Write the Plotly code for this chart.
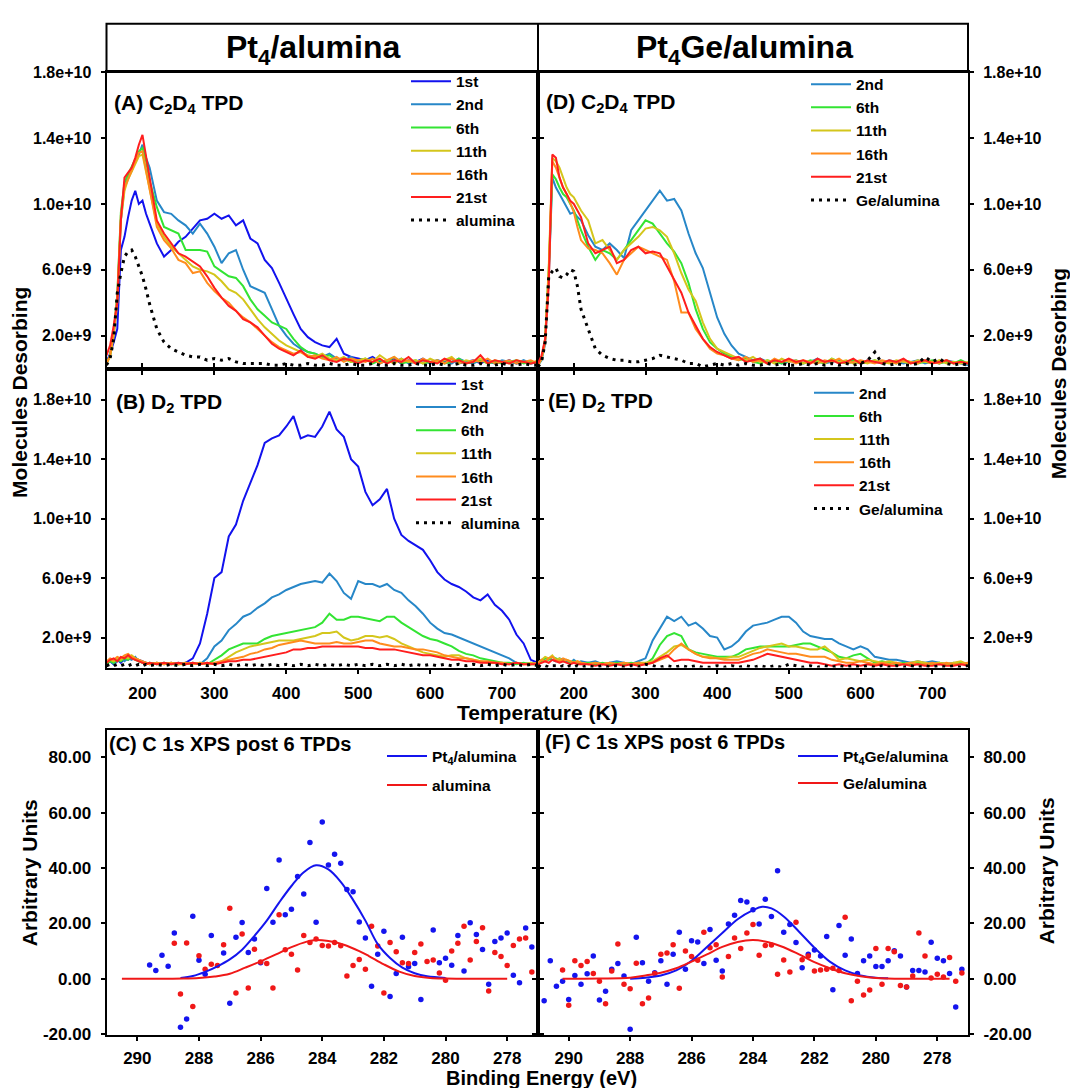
import plotly.graph_objects as go

# ---------------- TPD data (values in units of 1e9 molecules) ----------------
temperature_K = [150, 155, 160, 165, 170, 175, 180, 185, 190, 195, 200, 205, 210,
                 220, 230, 240, 250, 260, 270, 280, 290, 300,
                 310, 320, 330, 340, 350, 360, 370, 380, 390, 400,
                 410, 420, 430, 440, 450, 460, 470, 480, 490, 500,
                 510, 520, 530, 540, 550, 560, 570, 580, 590, 600,
                 610, 620, 630, 640, 650, 660, 670, 680, 690, 700,
                 710, 720, 730, 740, 750]

# Panel A: C2D4 TPD, Pt4/alumina
a_1st = [0.4, 0.9, 1.6, 2.4, 7.2, 8.0, 9.2, 10.2, 10.8, 10.0, 10.2, 9.4, 8.8,
         7.6, 6.8, 7.2, 7.7, 8.0, 8.5, 9.0, 9.1, 9.4,
         9.1, 9.3, 8.7, 9.0, 7.9, 7.6, 6.6, 6.1, 5.2, 4.2,
         3.3, 2.4, 1.9, 1.6, 1.4, 1.3, 1.8, 0.9, 0.7, 0.6,
         0.5, 0.7, 0.4, 0.5, 0.6, 0.3, 0.5, 0.4, 0.6, 0.3,
         0.5, 0.4, 0.6, 0.3, 0.4, 0.5, 0.3, 0.5, 0.4, 0.3,
         0.5, 0.3, 0.4, 0.3, 0.4]
a_2nd = [0.3, 0.8, 2.0, 4.2, 9.0, 11.0, 11.6, 12.0, 12.6, 13.0, 13.6, 12.8, 12.2,
         10.2, 9.5, 9.4, 9.0, 8.7, 8.2, 8.8, 8.2, 7.4,
         6.4, 7.0, 7.2, 6.0, 5.0, 4.8, 4.6, 3.6, 2.6, 2.0,
         1.5, 1.2, 1.0, 0.9, 0.7, 0.9, 0.6, 0.5, 0.7, 0.4,
         0.5, 0.6, 0.3, 0.5, 0.4, 0.6, 0.3, 0.4, 0.5, 0.3,
         0.4, 0.5, 0.3, 0.6, 0.4, 0.3, 0.5, 0.4, 0.3, 0.5,
         0.4, 0.3, 0.5, 0.3, 0.4]
a_6th = [0.3, 0.8, 2.2, 4.5, 9.5, 11.3, 11.8, 12.3, 12.8, 13.2, 13.4, 12.6, 11.4,
         9.8, 8.6, 8.4, 8.2, 7.2, 7.2, 7.2, 7.1, 6.2,
         5.9, 5.6, 5.5, 5.0, 4.2, 3.6, 3.2, 2.8, 2.6, 2.4,
         1.8, 1.3, 1.0, 0.9, 0.7, 0.8, 0.5, 0.6, 0.4, 0.5,
         0.6, 0.3, 0.5, 0.4, 0.7, 0.3, 0.4, 0.5, 0.3, 0.4,
         0.5, 0.3, 0.4, 0.6, 0.3, 0.4, 0.5, 0.3, 0.4, 0.3,
         0.4, 0.5, 0.3, 0.4, 0.3]
a_11th = [0.3, 0.7, 2.0, 4.0, 9.0, 10.8, 11.5, 12.0, 12.5, 12.9, 13.0, 12.0, 10.8,
          8.8, 8.0, 7.4, 7.0, 6.6, 6.2, 6.0, 5.9, 5.7,
          5.3, 4.8, 4.6, 4.2, 3.6, 3.0, 2.5, 2.1, 1.7, 1.4,
          1.2, 1.0, 0.8, 0.7, 0.9, 0.6, 0.5, 0.7, 0.4, 0.5,
          0.6, 0.4, 0.8, 0.5, 0.3, 0.6, 0.4, 0.5, 0.3, 0.6,
          0.4, 0.5, 0.7, 0.3, 0.5, 0.4, 0.6, 0.3, 0.5, 0.4,
          0.3, 0.5, 0.4, 0.3, 0.5]
a_16th = [0.3, 0.8, 2.2, 4.4, 9.3, 11.0, 11.5, 12.0, 12.6, 13.1, 13.2, 12.0, 11.0,
          8.6, 7.8, 7.3, 6.6, 6.4, 5.8, 5.9, 5.2, 4.7,
          4.3, 4.0, 3.5, 3.1, 2.8, 2.4, 2.0, 1.6, 1.3, 1.1,
          0.9, 1.0, 0.7, 0.8, 0.6, 0.5, 0.7, 0.4, 0.6, 0.5,
          0.4, 0.6, 0.3, 0.5, 0.7, 0.4, 0.5, 0.3, 0.6, 0.4,
          0.5, 0.3, 0.6, 0.4, 0.3, 0.5, 0.4, 0.6, 0.3, 0.4,
          0.5, 0.3, 0.4, 0.5, 0.3]
a_21st = [0.8, 1.4, 2.6, 4.0, 9.0, 11.6, 11.9, 12.2, 12.8, 13.6, 14.2, 13.0, 11.6,
          9.0, 8.2, 7.6, 7.0, 6.8, 6.5, 6.2, 5.6, 4.9,
          4.3, 3.8, 3.5, 3.0, 2.8, 2.5, 2.0, 1.5, 1.2, 1.0,
          0.8, 1.1, 0.7, 0.6, 0.8, 0.5, 0.4, 0.6, 0.5, 0.3,
          0.5, 0.4, 0.6, 0.3, 0.5, 0.4, 0.7, 0.3, 0.5, 0.4,
          0.3, 0.6, 0.4, 0.5, 0.3, 0.4, 0.8, 0.3, 0.5, 0.4,
          0.3, 0.5, 0.4, 0.3, 0.4]
a_alumina = [0.2, 0.6, 1.8, 4.6, 5.8, 6.8, 7.1, 7.2, 6.8, 6.2, 5.6, 4.8, 3.9,
             2.4, 1.6, 1.2, 1.0, 0.8, 0.7, 0.7, 0.5, 0.6,
             0.5, 0.6, 0.4, 0.3, 0.3, 0.3, 0.3, 0.2, 0.2, 0.3,
             0.2, 0.2, 0.3, 0.2, 0.2, 0.3, 0.2, 0.2, 0.3, 0.2,
             0.2, 0.3, 0.2, 0.2, 0.3, 0.2, 0.2, 0.3, 0.2, 0.2,
             0.3, 0.2, 0.2, 0.3, 0.2, 0.2, 0.3, 0.2, 0.2, 0.3,
             0.2, 0.2, 0.3, 0.2, 0.2]

# Panel D: C2D4 TPD, Pt4Ge/alumina
d_2nd = [0.2, 0.5, 1.5, 5.5, 11.6, 11.0, 10.6, 10.2, 9.8, 9.4, 9.5, 9.2, 9.0,
         8.1, 7.4, 7.2, 7.6, 7.2, 6.7, 8.4, 9.0, 9.6,
         10.2, 10.8, 10.2, 10.3, 9.6, 8.2, 7.0, 6.1, 4.6, 3.1,
         2.1, 1.4, 0.9, 0.7, 0.5, 0.6, 0.4, 0.5, 0.3, 0.4,
         0.5, 0.3, 0.4, 0.6, 0.3, 0.4, 0.5, 0.3, 0.4, 0.3,
         0.5, 0.4, 0.3, 0.5, 0.4, 0.3, 0.4, 0.5, 0.3, 0.4,
         0.3, 0.5, 0.4, 0.3, 0.2]
d_6th = [0.2, 0.6, 1.8, 6.0, 11.8, 11.5, 11.0, 10.6, 10.4, 10.0, 9.6, 9.0, 8.4,
         7.4, 6.6, 7.2, 7.0, 6.6, 7.2, 7.8, 8.4, 9.0,
         8.8, 8.2, 7.6, 7.1, 6.4, 5.2, 3.6, 2.4, 1.6, 1.2,
         0.9, 0.7, 0.5, 0.6, 0.4, 0.3, 0.5, 0.4, 0.3, 0.5,
         0.4, 0.3, 0.5, 0.4, 0.3, 0.6, 0.4, 0.3, 0.5, 0.3,
         0.4, 0.5, 0.3, 0.4, 0.3, 0.5, 0.4, 0.3, 0.4, 0.5,
         0.3, 0.4, 0.3, 0.5, 0.3]
d_11th = [0.2, 0.6, 1.8, 6.2, 12.8, 12.6, 12.2, 11.6, 11.0, 10.6, 10.4, 10.0, 9.6,
          9.0, 7.6, 7.8, 7.2, 6.6, 7.2, 7.6, 8.0, 8.5,
          8.6, 8.4, 8.0, 7.0, 5.8, 4.8, 4.1, 2.8, 1.8, 1.2,
          1.0, 0.8, 0.6, 0.5, 0.7, 0.4, 0.5, 0.3, 0.6, 0.4,
          0.5, 0.3, 0.4, 0.5, 0.3, 0.6, 0.4, 0.5, 0.3, 0.4,
          0.3, 0.5, 0.4, 0.3, 0.5, 0.4, 0.3, 0.5, 0.4, 0.3,
          0.5, 0.3, 0.4, 0.3, 0.4]
d_16th = [0.2, 0.6, 1.6, 5.8, 12.6, 12.2, 11.6, 11.0, 10.6, 10.0, 9.5, 8.6, 7.8,
          7.3, 7.2, 7.0, 6.4, 5.7, 6.6, 7.0, 7.4, 7.2,
          7.0, 6.8, 6.6, 5.3, 3.4, 3.4, 2.4, 1.8, 1.2, 0.9,
          0.8, 0.6, 0.5, 0.7, 0.4, 0.5, 0.3, 0.6, 0.4, 0.5,
          0.3, 0.5, 0.4, 0.3, 0.5, 0.4, 0.6, 0.3, 0.4, 0.5,
          0.4, 0.3, 0.5, 0.4, 0.3, 0.5, 0.4, 0.3, 0.5, 0.4,
          0.3, 0.5, 0.3, 0.4, 0.3]
d_21st = [0.3, 0.8, 1.8, 5.0, 13.0, 12.8, 11.6, 11.0, 10.6, 10.2, 10.0, 9.6, 9.2,
          7.6, 7.0, 7.2, 7.4, 6.4, 6.6, 7.2, 7.4, 7.0,
          7.1, 7.0, 6.2, 5.4, 4.6, 3.4, 2.6, 1.8, 1.3, 1.0,
          0.8, 0.6, 0.7, 0.4, 0.5, 0.6, 0.3, 0.5, 0.4, 0.6,
          0.4, 0.5, 0.3, 0.6, 0.4, 0.5, 0.3, 0.4, 0.6, 0.3,
          0.5, 0.4, 0.3, 0.5, 0.4, 0.6, 0.3, 0.4, 0.5, 0.3,
          0.4, 0.5, 0.3, 0.4, 0.3]
d_ge = [0.1, 0.4, 1.6, 5.6, 5.9, 6.1, 5.6, 5.5, 5.7, 6.0, 5.9, 5.0, 3.6,
        2.4, 1.2, 0.8, 0.6, 0.5, 0.5, 0.4, 0.4, 0.5,
        0.6, 0.8, 0.7, 0.6, 0.5, 0.3, 0.3, 0.1, 0.2, 0.3,
        0.2, 0.3, 0.2, 0.3, 0.2, 0.2, 0.3, 0.2, 0.3, 0.2,
        0.2, 0.3, 0.2, 0.3, 0.2, 0.3, 0.2, 0.3, 0.2, 0.3,
        0.5, 1.0, 0.3, 0.2, 0.3, 0.2, 0.2, 0.3, 0.7, 0.4,
        0.6, 0.3, 0.2, 0.3, 0.2]

# Panel B: D2 TPD, Pt4/alumina
b_1st = [0.3, 0.4, 0.2, 0.5, 0.3, 0.6, 0.5, 0.7, 0.6, 0.5, 0.4, 0.3, 0.2,
         0.3, 0.2, 0.3, 0.2, 0.3, 0.6, 1.6, 3.6, 6.0,
         6.4, 8.8, 9.6, 11.2, 12.4, 13.6, 15.1, 15.4, 15.6, 16.2,
         16.9, 15.4, 15.6, 15.5, 16.2, 17.2, 16.0, 15.5, 14.0, 13.5,
         11.8, 10.9, 11.3, 12.0, 10.0, 8.9, 8.5, 8.2, 7.9, 7.2,
         6.4, 5.9, 5.6, 5.4, 5.1, 4.7, 4.5, 4.9, 4.2, 3.8,
         3.2, 2.2, 1.6, 0.5, 0.3]
b_2nd = [0.3, 0.5, 0.2, 0.4, 0.6, 0.4, 0.6, 0.5, 0.7, 0.4, 0.3, 0.2, 0.3,
         0.2, 0.3, 0.2, 0.3, 0.2, 0.3, 0.2, 0.6, 1.4,
         1.8, 2.5, 2.9, 3.4, 3.6, 4.0, 4.3, 4.7, 4.9, 5.2,
         5.4, 5.6, 5.7, 5.8, 5.7, 6.3, 5.8, 5.0, 4.6, 5.8,
         5.6, 5.6, 5.4, 5.6, 5.2, 5.0, 4.5, 4.1, 3.6, 3.0,
         2.6, 2.3, 2.2, 2.0, 1.8, 1.6, 1.4, 1.2, 1.0, 0.8,
         0.6, 0.3, 0.2, 0.3, 0.2]
b_6th = [0.2, 0.4, 0.3, 0.5, 0.4, 0.6, 0.5, 0.7, 0.5, 0.4, 0.3, 0.2, 0.3,
         0.2, 0.3, 0.2, 0.2, 0.3, 0.2, 0.3, 0.2, 0.5,
         0.8, 1.2, 1.4, 1.6, 1.6, 1.6, 1.9, 2.1, 2.2, 2.3,
         2.4, 2.5, 2.6, 2.7, 3.0, 3.6, 3.2, 3.2, 3.4, 3.4,
         3.3, 3.2, 3.1, 3.4, 3.4, 3.0, 2.7, 2.4, 2.1, 1.9,
         1.8, 1.6, 1.4, 1.1, 0.9, 0.8, 0.6, 0.5, 0.4, 0.3,
         0.3, 0.2, 0.3, 0.2, 0.2]
b_11th = [0.3, 0.5, 0.4, 0.6, 0.5, 0.7, 0.6, 0.8, 0.6, 0.5, 0.3, 0.3, 0.2,
          0.3, 0.2, 0.3, 0.2, 0.2, 0.3, 0.2, 0.3, 0.2,
          0.4, 0.7, 1.0, 1.2, 1.4, 1.5, 1.6, 1.7, 1.8, 1.8,
          1.8, 1.9, 2.0, 2.1, 2.3, 2.3, 2.4, 2.0, 1.8, 1.9,
          2.1, 2.1, 2.0, 2.1, 1.9, 1.6, 1.4, 1.2, 1.0, 0.9,
          0.8, 0.7, 0.8, 0.8, 0.6, 0.5, 0.4, 0.3, 0.3, 0.3,
          0.2, 0.3, 0.2, 0.3, 0.2]
b_16th = [0.4, 0.6, 0.5, 0.7, 0.6, 0.8, 0.9, 0.7, 0.6, 0.5, 0.4, 0.3, 0.2,
          0.3, 0.2, 0.3, 0.2, 0.3, 0.2, 0.3, 0.2, 0.3,
          0.4, 0.5, 0.6, 0.7, 0.9, 1.0, 1.2, 1.3, 1.5, 1.6,
          1.7, 1.8, 1.7, 1.6, 1.6, 1.6, 1.7, 1.6, 1.6, 1.7,
          1.8, 1.8, 1.6, 1.5, 1.4, 1.4, 1.3, 1.2, 1.2, 1.1,
          1.0, 0.8, 0.7, 0.6, 0.6, 0.5, 0.4, 0.4, 0.3, 0.3,
          0.2, 0.3, 0.2, 0.2, 0.3]
b_21st = [0.3, 0.5, 0.6, 0.4, 0.7, 0.6, 0.8, 0.6, 0.5, 0.4, 0.3, 0.2, 0.3,
          0.2, 0.3, 0.2, 0.3, 0.2, 0.3, 0.2, 0.3, 0.2,
          0.3, 0.4, 0.4, 0.5, 0.5, 0.6, 0.7, 0.8, 0.9, 1.0,
          1.2, 1.2, 1.3, 1.3, 1.4, 1.4, 1.4, 1.4, 1.4, 1.4,
          1.3, 1.3, 1.2, 1.2, 1.2, 1.1, 1.0, 0.9, 0.8, 0.8,
          0.7, 0.6, 0.5, 0.5, 0.4, 0.4, 0.3, 0.3, 0.3, 0.2,
          0.2, 0.3, 0.2, 0.2, 0.2]
b_alumina = [0.1, 0.2, 0.1, 0.2, 0.1, 0.2, 0.1, 0.2, 0.1, 0.2, 0.1, 0.2, 0.1,
             0.2, 0.1, 0.2, 0.1, 0.2, 0.1, 0.2, 0.1, 0.2,
             0.1, 0.2, 0.1, 0.2, 0.1, 0.2, 0.1, 0.2, 0.1, 0.2,
             0.1, 0.2, 0.1, 0.2, 0.1, 0.2, 0.1, 0.2, 0.1, 0.2,
             0.1, 0.2, 0.1, 0.2, 0.1, 0.2, 0.1, 0.2, 0.1, 0.2,
             0.1, 0.2, 0.1, 0.2, 0.1, 0.2, 0.1, 0.2, 0.1, 0.2,
             0.1, 0.2, 0.1, 0.2, 0.1]

# Panel E: D2 TPD, Pt4Ge/alumina
e_2nd = [0.3, 0.5, 0.4, 0.6, 0.5, 0.4, 0.6, 0.5, 0.4, 0.3, 0.5, 0.3, 0.4,
         0.3, 0.4, 0.2, 0.3, 0.4, 0.3, 0.2, 0.4, 0.6,
         1.8, 2.6, 3.4, 3.1, 3.4, 2.8, 3.0, 2.6, 2.1, 2.0,
         1.2, 1.4, 1.8, 2.4, 2.8, 2.9, 3.0, 3.2, 3.4, 3.4,
         3.0, 2.4, 2.1, 2.0, 1.9, 1.9, 1.6, 1.4, 1.2, 1.4,
         1.2, 0.7, 0.6, 0.5, 0.5, 0.4, 0.3, 0.4, 0.3, 0.4,
         0.3, 0.2, 0.3, 0.2, 0.3]
e_6th = [0.2, 0.4, 0.6, 0.5, 0.7, 0.6, 0.5, 0.4, 0.5, 0.3, 0.4, 0.3, 0.2,
         0.3, 0.2, 0.3, 0.2, 0.3, 0.2, 0.3, 0.2, 0.2,
         0.6, 1.5, 2.1, 2.3, 2.1, 1.2, 1.0, 0.9, 0.8, 0.7,
         0.7, 0.7, 0.9, 1.2, 1.3, 1.4, 1.4, 1.4, 1.4, 1.4,
         1.5, 1.6, 1.6, 1.4, 1.2, 1.0, 0.7, 0.6, 0.8, 0.9,
         0.6, 0.3, 0.4, 0.3, 0.2, 0.3, 0.2, 0.3, 0.2, 0.2,
         0.3, 0.2, 0.2, 0.3, 0.2]
e_11th = [0.3, 0.5, 0.7, 0.6, 0.8, 0.5, 0.6, 0.4, 0.5, 0.4, 0.3, 0.4, 0.3,
          0.2, 0.3, 0.2, 0.3, 0.2, 0.3, 0.2, 0.3, 0.3,
          0.4, 0.7, 1.0, 1.4, 1.5, 1.2, 0.9, 0.7, 0.7, 0.6,
          0.6, 0.7, 0.7, 0.9, 1.1, 1.3, 1.4, 1.5, 1.6, 1.4,
          1.4, 1.3, 1.2, 1.2, 1.4, 1.0, 0.5, 0.6, 0.5, 0.4,
          0.5, 0.4, 0.3, 0.4, 0.3, 0.2, 0.3, 0.4, 0.3, 0.2,
          0.3, 0.2, 0.3, 0.4, 0.2]
e_16th = [0.3, 0.5, 0.4, 0.6, 0.7, 0.5, 0.4, 0.6, 0.5, 0.4, 0.3, 0.4, 0.3,
          0.2, 0.3, 0.2, 0.3, 0.2, 0.3, 0.2, 0.3, 0.2,
          0.3, 0.5, 0.7, 1.2, 1.6, 1.2, 0.9, 0.7, 0.6, 0.6,
          0.5, 0.5, 0.5, 0.7, 0.9, 1.0, 1.2, 1.1, 1.0, 0.9,
          0.9, 0.8, 0.7, 0.7, 0.7, 0.5, 0.4, 0.3, 0.3, 0.4,
          0.3, 0.2, 0.3, 0.2, 0.3, 0.2, 0.3, 0.2, 0.2, 0.3,
          0.2, 0.3, 0.2, 0.2, 0.3]
e_21st = [0.2, 0.3, 0.4, 0.3, 0.5, 0.4, 0.3, 0.4, 0.3, 0.2, 0.3, 0.2, 0.2,
          0.2, 0.1, 0.2, 0.1, 0.2, 0.1, 0.2, 0.1, 0.2,
          0.3, 0.6, 0.8, 0.4, 0.5, 0.5, 0.4, 0.3, 0.3, 0.3,
          0.3, 0.3, 0.3, 0.4, 0.5, 0.7, 0.9, 0.8, 0.7, 0.6,
          0.5, 0.4, 0.3, 0.3, 0.2, 0.1, 0.2, 0.1, 0.2, 0.1,
          0.2, 0.1, 0.2, 0.1, 0.1, 0.2, 0.1, 0.2, 0.1, 0.1,
          0.2, 0.1, 0.1, 0.2, 0.1]
e_ge = [0.1, 0.0, 0.1, 0.0, 0.1, 0.1, 0.0, 0.1, 0.0, 0.1, 0.0, 0.1, 0.0,
        0.1, 0.0, 0.1, 0.0, 0.1, 0.0, 0.1, 0.0, 0.2,
        0.1, 0.0, 0.1, 0.0, 0.1, 0.0, 0.1, 0.0, 0.0, 0.1,
        0.0, 0.1, 0.0, 0.1, 0.0, 0.1, 0.0, 0.1, 0.0, 0.2,
        0.1, 0.0, 0.1, 0.0, 0.1, 0.0, 0.1, 0.0, 0.1, 0.0,
        0.1, 0.0, 0.1, 0.0, 0.1, 0.0, 0.1, 0.0, 0.1, 0.0,
        0.1, 0.0, 0.1, 0.0, 0.1]

tpd_ticks = [2, 6, 10, 14, 18]
tpd_ticktext = ["2.0e+9", "6.0e+9", "1.0e+10", "1.4e+10", "1.8e+10"]
temp_ticks = [200, 300, 400, 500, 600, 700]

# ---------------- XPS data ----------------
c_pt_be = [289.6, 289.4, 289.2, 289.0, 288.8, 288.6, 288.4, 288.2, 288.0, 287.8, 287.6, 287.2,
           287.0, 286.8, 286.6, 286.4, 286.2, 286.0, 285.8, 285.6, 285.4, 285.2, 285.0, 284.8,
           284.6, 284.4, 284.2, 284.0, 283.8, 283.6, 283.4, 283.2, 283.0, 282.8, 282.6, 282.4,
           282.2, 282.0, 281.8, 281.6, 281.4, 281.2, 281.0, 280.8, 280.4, 280.2, 280.0, 279.8,
           279.6, 279.4, 279.2, 279.0, 278.8, 278.6, 278.4, 278.2, 278.0, 277.8, 277.6, 277.4, 277.2]
c_pt_val = [5.0, 3.0, 8.5, 4.5, 16.5, -17.5, -14.5, 22.6, 6.7, 1.6, 15.6, 9.3,
            -8.8, 15.0, 20.3, 9.5, 14.4, 5.8, 32.6, 20.4, 42.9, 23.1, 25.1, 36.9,
            30.6, 49.2, 20.4, 56.6, 41.1, 45.0, 41.7, 32.2, 31.4, 20.5, 14.7, -2.7,
            8.9, 17.2, -6.4, 1.9, 15.0, 4.3, 5.5, -7.5, 17.6, 5.8, 7.4, 4.9,
            15.6, 2.8, 20.2, 16.0, 10.6, -2.0, 13.5, 14.7, 16.5, 1.3, -1.4, 18.3, 11.5]
c_al_be = [288.8, 288.6, 288.4, 288.2, 288.0, 287.8, 287.6, 287.4, 287.2, 287.0,
           286.8, 286.6, 286.4, 286.2, 286.0, 285.8, 285.6, 285.4, 285.2, 285.0,
           284.8, 284.6, 284.4, 284.2, 284.0, 283.8, 283.6, 283.4, 283.2, 283.0,
           282.8, 282.6, 282.4, 282.2, 282.0, 281.8, 281.6, 281.4, 281.2, 281.0,
           280.8, 280.6, 280.4, 280.2, 280.0, 279.8, 279.6, 279.4, 279.2, 279.0,
           278.8, 278.6, 278.4, 278.2, 278.0, 277.8, 277.6, 277.4, 277.2]
c_al_val = [12.8, -5.5, 12.9, -10.0, 8.3, 3.4, 5.2, 4.8, 12.3, 25.5,
            -5.1, 16.2, -3.3, 10.7, 6.1, 5.5, -3.3, 23.1, 10.5, 8.9,
            3.2, 15.6, 13.1, 14.4, 12.0, 11.8, 13.1, 11.9, 1.0, 4.8,
            7.0, 3.4, 19.0, 11.8, -5.1, 13.1, 9.8, 5.8, 5.5, 9.5,
            12.6, 6.2, 6.8, 2.1, -0.5, 10.0, 12.8, 19.0, 6.8, 13.5,
            18.4, -4.4, 9.5, 8.0, 4.8, 12.0, 14.4, 14.7, 2.4]
c_pt_fit_be = [288.6, 288.2, 287.8, 287.4, 287.0, 286.6, 286.2, 285.8, 285.4, 285.0, 284.6,
               284.2, 283.8, 283.4, 283.0, 282.6, 282.2, 281.8, 281.4, 281.0, 280.6, 280.0]
c_pt_fit_val = [0.3, 1.0, 2.5, 4.5, 7.0, 10.5, 15.5, 21.0, 27.5, 33.5, 38.5,
                41.0, 39.5, 35.0, 28.5, 21.0, 12.5, 7.5, 4.0, 2.0, 0.9, 0.3]
c_al_fit_be = [290.5, 289.5, 288.5, 288.0, 287.5, 287.0, 286.5, 286.0, 285.5, 285.0, 284.5,
               284.2, 283.8, 283.3, 282.8, 282.5, 282.0, 281.5, 281.0, 280.5, 280.0, 279.0, 278.0]
c_al_fit_val = [0.0, 0.0, 0.1, 0.3, 0.8, 1.8, 4.0, 6.3, 8.8, 11.4, 13.4,
                14.0, 13.6, 12.3, 10.0, 8.3, 5.2, 2.6, 1.0, 0.3, 0.1, 0.0, 0.0]

f_pt_be = [290.8, 290.6, 290.4, 290.2, 290.0, 289.8, 289.6, 289.4, 289.2, 289.0,
           288.8, 288.6, 288.4, 288.2, 288.0, 287.8, 287.6, 287.4, 287.2, 287.0,
           286.8, 286.6, 286.4, 286.2, 286.0, 285.8, 285.6, 285.4, 285.2, 285.0,
           284.8, 284.6, 284.4, 284.2, 284.0, 283.8, 283.6, 283.4, 283.2, 283.0,
           282.8, 282.6, 282.4, 282.2, 282.0, 281.8, 281.6, 281.4, 281.2, 281.0,
           280.8, 280.6, 280.4, 280.2, 280.0, 279.8, 279.6, 279.4, 279.2, 279.0,
           278.8, 278.6, 278.4, 278.2, 278.0, 277.8, 277.6, 277.4, 277.2]
f_pt_val = [-7.9, 6.5, -2.7, -0.9, -7.5, 1.2, -2.0, 1.8, 8.2, -7.7,
            -4.5, 3.4, 5.5, 1.0, -18.2, 15.0, 5.8, -0.9, 2.2, 6.5,
            -2.0, 8.9, 16.8, 3.4, 13.7, 13.3, 5.5, 17.8, 6.7, 2.8,
            19.8, 22.9, 28.3, 27.7, 24.9, 19.8, 28.7, 22.5, 39.0, 16.8,
            19.6, 13.1, 4.0, 8.9, 10.4, 8.2, 15.3, -4.0, 19.2, 8.5,
            14.4, 1.9, 6.5, 8.2, 4.4, 4.4, 6.5, 10.1, 8.2, -3.0,
            3.0, 3.0, 2.4, 13.2, 7.4, 6.5, 1.9, -10.2, 3.4]
f_ge_be = [290.2, 290.0, 289.8, 289.6, 289.4, 289.2, 289.0, 288.8, 288.6, 288.4,
           288.2, 288.0, 287.8, 287.6, 287.4, 287.2, 287.0, 286.8, 286.6, 286.4,
           286.2, 286.0, 285.8, 285.6, 285.4, 285.2, 285.0, 284.8, 284.6, 284.4,
           284.2, 284.0, 283.8, 283.6, 283.4, 283.2, 283.0, 282.8, 282.6, 282.4,
           282.2, 282.0, 281.8, 281.6, 281.4, 281.2, 281.0, 280.8, 280.6, 280.4,
           280.2, 280.0, 279.8, 279.6, 279.4, 279.2, 279.0, 278.8, 278.6, 278.4,
           278.2, 278.0, 277.8, 277.6, 277.4, 277.2]
f_ge_val = [3.2, -9.6, 6.5, 4.8, 6.2, 1.9, -0.9, -9.0, 2.8, 12.6,
            -2.0, -3.6, 5.6, -9.0, -6.9, 1.9, 8.9, 9.3, 12.3, -3.4,
            10.0, 8.0, 6.7, 16.8, 11.2, 12.3, 0.6, 8.0, 14.7, 10.9,
            16.5, 19.6, 8.5, 12.0, 12.2, 1.6, 6.8, 2.4, 20.4, 6.9,
            8.2, 2.8, 3.2, 3.4, 3.8, 3.0, 22.2, -7.9, -0.9, -5.9,
            -4.1, 10.9, -2.0, 10.9, 9.8, -2.4, -3.0, 1.0, 16.5, 8.2,
            0.3, 1.6, 0.6, 7.7, -0.9, 2.1]
f_pt_fit_be = [288.0, 287.5, 287.0, 286.5, 286.0, 285.5, 285.0, 284.5, 284.0, 283.7,
               283.4, 283.0, 282.5, 282.0, 281.5, 281.0, 280.5, 280.0, 279.6]
f_pt_fit_val = [0.0, 0.4, 1.2, 3.0, 6.5, 11.5, 16.5, 21.5, 24.8, 26.0,
                25.4, 22.5, 17.0, 11.2, 6.2, 3.0, 1.2, 0.4, 0.2]
f_ge_fit_be = [290.2, 289.0, 288.0, 287.5, 287.0, 286.5, 286.0, 285.5, 285.0, 284.5, 284.0,
               283.5, 283.0, 282.5, 282.0, 281.5, 281.0, 280.5, 280.0, 279.0, 278.0, 277.6]
f_ge_fit_val = [0.0, 0.1, 0.4, 1.2, 2.2, 3.8, 6.2, 8.8, 11.5, 13.3, 14.0,
                13.2, 11.4, 8.8, 6.0, 3.8, 2.0, 0.9, 0.3, 0.0, 0.0, 0.0]

xps_ticks = [290, 288, 286, 284, 282, 280, 278]
xps_yticks = [-20, 0, 20, 40, 60, 80]

run_names_pt = ["1st", "2nd", "6th", "11th", "16th", "21st"]
run_names_ge = ["2nd", "6th", "11th", "16th", "21st"]

for s in [a_1st, a_2nd, a_6th, a_11th, a_16th, a_21st, a_alumina,
          d_2nd, d_6th, d_11th, d_16th, d_21st, d_ge,
          b_1st, b_2nd, b_6th, b_11th, b_16th, b_21st, b_alumina,
          e_2nd, e_6th, e_11th, e_16th, e_21st, e_ge]:
    assert len(s) == len(temperature_K), len(s)
assert len(c_pt_be) == len(c_pt_val)
assert len(c_al_be) == len(c_al_val)
assert len(f_pt_be) == len(f_pt_val)
assert len(f_ge_be) == len(f_ge_val)

# ---------------- styling ----------------
W, H = 1070, 1088
FONT = "Liberation Sans, Arial, Helvetica, sans-serif"
NARROW = "Liberation Sans Narrow, Arial Narrow, Liberation Sans, Arial, sans-serif"
COL = {"1st": "#1212EE", "2nd": "#2787C8", "6th": "#33E433", "11th": "#D4C61C",
       "16th": "#FF8C1E", "21st": "#FF1E1E"}
XPS_BLUE = "#1414EE"
XPS_RED = "#F01818"


def px(x):
    return x / W


def py(y):
    return 1 - y / H


XL = [px(106.5), px(538)]
XR = [px(538), px(968)]
Y_TOP = [py(367), py(65)]
Y_MID = [py(670), py(367)]
Y_BOT = [py(1043), py(733)]

fig = go.Figure()


def add_tpd(xa, ya, legend, series, names, dotted, dotted_name):
    for vals, n in zip(series, names):
        fig.add_trace(go.Scatter(x=temperature_K, y=vals, mode="lines", name=n,
                                 line=dict(color=COL[n], width=2),
                                 xaxis=xa, yaxis=ya, legend=legend))
    fig.add_trace(go.Scatter(x=temperature_K, y=dotted, mode="lines", name=dotted_name,
                             line=dict(color="black", width=3, dash="3px,5px"),
                             xaxis=xa, yaxis=ya, legend=legend))


add_tpd("x", "y", "legend", [a_1st, a_2nd, a_6th, a_11th, a_16th, a_21st],
        run_names_pt, a_alumina, "alumina")
add_tpd("x2", "y2", "legend2", [d_2nd, d_6th, d_11th, d_16th, d_21st],
        run_names_ge, d_ge, "Ge/alumina")
add_tpd("x3", "y3", "legend3", [b_1st, b_2nd, b_6th, b_11th, b_16th, b_21st],
        run_names_pt, b_alumina, "alumina")
add_tpd("x4", "y4", "legend4", [e_2nd, e_6th, e_11th, e_16th, e_21st],
        run_names_ge, e_ge, "Ge/alumina")


def add_xps(xa, ya, legend, pt_be, pt_val, al_be, al_val,
            ptf_be, ptf_val, alf_be, alf_val, pt_name, al_name):
    fig.add_trace(go.Scatter(x=pt_be, y=pt_val, mode="markers", showlegend=False,
                             marker=dict(color=XPS_BLUE, size=5.5),
                             xaxis=xa, yaxis=ya))
    fig.add_trace(go.Scatter(x=al_be, y=al_val, mode="markers", showlegend=False,
                             marker=dict(color=XPS_RED, size=5.5),
                             xaxis=xa, yaxis=ya))
    fig.add_trace(go.Scatter(x=ptf_be, y=ptf_val, mode="lines", name=pt_name,
                             line=dict(color=XPS_BLUE, width=2, shape="spline"),
                             xaxis=xa, yaxis=ya, legend=legend, legendgroup=pt_name))
    fig.add_trace(go.Scatter(x=alf_be, y=alf_val, mode="lines", name=al_name,
                             line=dict(color=XPS_RED, width=2, shape="spline"),
                             xaxis=xa, yaxis=ya, legend=legend, legendgroup=al_name))


add_xps("x5", "y5", "legend5", c_pt_be, c_pt_val, c_al_be, c_al_val,
        c_pt_fit_be, c_pt_fit_val, c_al_fit_be, c_al_fit_val,
        "Pt<sub>4</sub>/alumina", "alumina")
add_xps("x6", "y6", "legend6", f_pt_be, f_pt_val, f_ge_be, f_ge_val,
        f_pt_fit_be, f_pt_fit_val, f_ge_fit_be, f_ge_fit_val,
        "Pt<sub>4</sub>Ge/alumina", "Ge/alumina")

TICKFONT = dict(family=FONT, size=16, color="black", weight="bold")
XTICKFONT = dict(family=FONT, size=17, color="black", weight="bold")
AX = dict(showline=True, linecolor="black", linewidth=2, showgrid=False, zeroline=False,
          ticks="outside", ticklen=4, tickwidth=1.5, tickcolor="black")


def tpd_x(domain, anchor, labels):
    d = dict(AX, domain=domain, anchor=anchor, range=[150, 750], tickvals=temp_ticks,
             showticklabels=labels, tickfont=XTICKFONT, ticklabelstandoff=5,
             mirror="ticks" if labels else True)
    return d


def tpd_y(domain, anchor, side, rng):
    return dict(AX, domain=domain, anchor=anchor, side=side, range=rng,
                tickvals=tpd_ticks, ticktext=tpd_ticktext, tickfont=TICKFONT,
                mirror="ticks", ticklabelstandoff=6)


def xps_x(domain, anchor):
    return dict(AX, domain=domain, anchor=anchor, range=[291, 277], tickvals=xps_ticks,
                ticktext=[str(t) for t in xps_ticks], tickfont=XTICKFONT, mirror=True,
                ticklabelstandoff=3)


def xps_y(domain, anchor, side):
    return dict(AX, domain=domain, anchor=anchor, side=side, range=[-20.2, 90],
                tickvals=xps_yticks, ticktext=["%.2f" % v for v in xps_yticks],
                tickfont=XTICKFONT, mirror="ticks", ticklabelstandoff=6)


LEGFONT = dict(family=FONT, size=15.5, color="black", weight="bold")


def leg(xp, yp, gap=0):
    d = dict(x=px(xp), y=py(yp), xanchor="left", yanchor="top", bgcolor="rgba(0,0,0,0)",
             borderwidth=0, font=LEGFONT, itemwidth=40)
    if gap:
        d.update(traceorder="grouped", tracegroupgap=gap)
    return d


def ann(text, x, y, size=21, xanchor="left", angle=0, family=FONT):
    return dict(text=text, x=px(x), y=py(y), xref="paper", yref="paper",
                xanchor=xanchor, yanchor="middle", showarrow=False, textangle=angle,
                font=dict(family=family, size=size, color="black", weight="bold"))


annotations = [
    ann("Pt<sub>4</sub>/alumina", 313, 42, size=32, xanchor="center", family=NARROW),
    ann("Pt<sub>4</sub>Ge/alumina", 744, 42, size=32, xanchor="center", family=NARROW),
    ann("(A) C<sub>2</sub>D<sub>4</sub> TPD", 112, 98),
    ann("(D) C<sub>2</sub>D<sub>4</sub> TPD", 544, 97),
    ann("(B) D<sub>2</sub> TPD", 114, 401),
    ann("(E) D<sub>2</sub> TPD", 546, 400),
    ann("(C) C 1s XPS post 6 TPDs", 107, 748, size=20),
    ann("(F) C 1s XPS post 6 TPDs", 543, 746, size=20),
    ann("Molecules Desorbing", 20, 391, angle=-90, xanchor="center"),
    ann("Molecules Desorbing", 1058, 372, angle=-90, xanchor="center"),
    ann("Arbitrary Units", 29, 879, angle=-90, xanchor="center"),
    ann("Arbitrary Units", 1046, 877, angle=-90, xanchor="center"),
    ann("Temperature (K)", 537, 716, xanchor="center"),
    ann("Binding Energy (eV)", 541, 1087, size=20, xanchor="center"),
]

shapes = [
    dict(type="rect", xref="paper", yref="paper", x0=px(106.5), x1=px(968),
         y0=py(65), y1=py(16), line=dict(color="black", width=2)),
    dict(type="line", xref="paper", yref="paper", x0=px(538), x1=px(538),
         y0=py(65), y1=py(16), line=dict(color="black", width=2)),
]

fig.update_layout(
    width=W, height=H, margin=dict(l=0, r=0, t=0, b=0),
    paper_bgcolor="white", plot_bgcolor="white",
    font=dict(family=FONT, color="black"),
    xaxis=tpd_x(XL, "y", False), yaxis=tpd_y(Y_TOP, "x", "left", [-0.05, 18.02]),
    xaxis2=tpd_x(XR, "y2", False), yaxis2=tpd_y(Y_TOP, "x2", "right", [-0.05, 18.02]),
    xaxis3=tpd_x(XL, "y3", True), yaxis3=tpd_y(Y_MID, "x3", "left", [-0.02, 20.05]),
    xaxis4=tpd_x(XR, "y4", True), yaxis4=tpd_y(Y_MID, "x4", "right", [-0.02, 20.05]),
    xaxis5=xps_x(XL, "y5"), yaxis5=xps_y(Y_BOT, "x5", "left"),
    xaxis6=xps_x(XR, "y6"), yaxis6=xps_y(Y_BOT, "x6", "right"),
    legend=leg(406, 57.5),
    legend2=leg(806, 60.5),
    legend3=leg(411, 365),
    legend4=leg(809, 374),
    legend5=leg(382, 743, gap=6),
    legend6=leg(793, 743, gap=4),
    annotations=annotations,
    shapes=shapes,
)

fig.write_html("out.html")
